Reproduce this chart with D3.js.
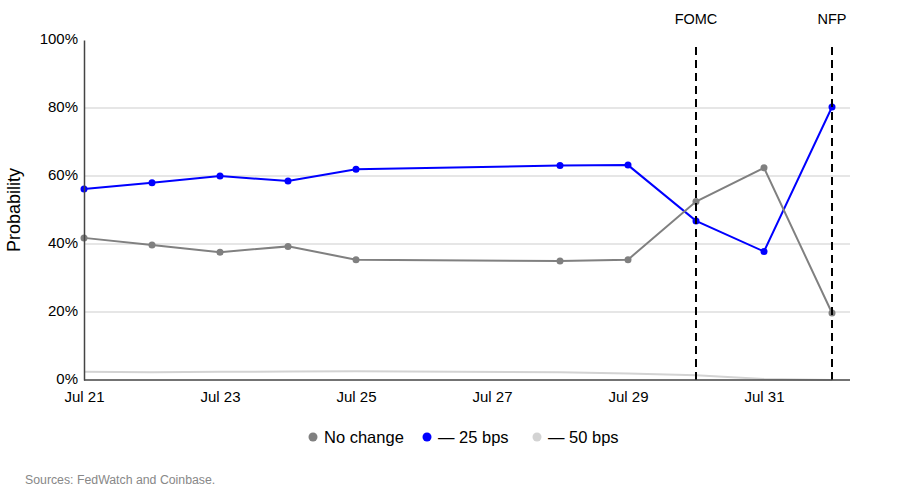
<!DOCTYPE html>
<html>
<head>
<meta charset="utf-8">
<script src="https://cdn.jsdelivr.net/npm/d3@7"></script>
<style>
  body { margin: 0; background: #fff; }
  svg text { font-family: "Liberation Sans Narrow", "Arial Narrow", "Liberation Sans", Arial, sans-serif; }
</style>
</head>
<body>
<div id="chart"></div>
<script>
// dates of each FedWatch reading (2025)
var dates = ['2025-07-21', '2025-07-22', '2025-07-23', '2025-07-24', '2025-07-25',
  '2025-07-28', '2025-07-29', '2025-07-30', '2025-07-31', '2025-08-01']
var noChange = [41.8, 39.7, 37.6, 39.3, 35.4, 35.0, 35.4, 52.5, 62.4, 19.7]
var cut25 = [56.2, 58.0, 60.0, 58.5, 62.0, 63.1, 63.2, 46.8, 37.8, 80.3]
var cut50 = [2.4, 2.3, 2.4, 2.5, 2.6, 2.3, 1.9, 1.4, 0.3, 0.0]
var eventNames = ['FOMC', 'NFP']
var eventDates = ['2025-07-30', '2025-08-01']
var yTicks = [0, 20, 40, 60, 80, 100]
var xTicks = ['2025-07-21', '2025-07-23', '2025-07-25', '2025-07-27', '2025-07-29', '2025-07-31']

var parse = d3.timeParse('%Y-%m-%d')
var width = 900, height = 500
var margin = { top: 40, right: 50, bottom: 120, left: 84 }
var innerW = width - margin.left - margin.right
var innerH = height - margin.top - margin.bottom

var svg = d3.select('#chart')
  .append('svg')
  .attr('width', width)
  .attr('height', height)

var g = svg.append('g')
  .attr('transform', `translate(${margin.left},${margin.top})`)

var xScale = d3.scaleTime()
  .domain([parse(dates[0]), parse(dates[dates.length - 1])])
  .range([0, innerW - 18])

var yScale = d3.scaleLinear()
  .domain([0, 100])
  .range([innerH, 0])

// gridlines
g.selectAll('.grid')
  .data(yTicks.filter(d => d > 0 && d < 100))
  .enter()
  .append('line')
  .attr('class', 'grid')
  .attr('x1', 0)
  .attr('x2', innerW)
  .attr('y1', d => yScale(d))
  .attr('y2', d => yScale(d))
  .attr('stroke', '#e6e6e6')
  .attr('stroke-width', 2)

var series = [
  { name: 'No change', values: noChange, color: '#808080', dots: true },
  { name: '\u2014 25 bps', values: cut25, color: '#0000ff', dots: true },
  { name: '\u2014 50 bps', values: cut50, color: '#d3d3d3', dots: false }
]

var line = d3.line()
  .x((d, i) => xScale(parse(dates[i])))
  .y(d => yScale(d))

// draw light series first so the others sit on top
series.slice().reverse().forEach(function(s) {
  g.append('path')
    .datum(s.values)
    .attr('d', line)
    .attr('fill', 'none')
    .attr('stroke', s.color)
    .attr('stroke-width', 2)

  if (s.dots) {
    g.selectAll('.dot-' + s.color.slice(1))
      .data(s.values)
      .enter()
      .append('circle')
      .attr('cx', (d, i) => xScale(parse(dates[i])))
      .attr('cy', d => yScale(d))
      .attr('r', 3.5)
      .attr('fill', s.color)
  }
})

// event markers
eventDates.forEach(function(d, i) {
  var x = xScale(parse(d))
  g.append('line')
    .attr('x1', x)
    .attr('x2', x)
    .attr('y1', 7)
    .attr('y2', innerH)
    .attr('stroke', '#000')
    .attr('stroke-width', 2)
    .attr('stroke-dasharray', '8,5')
  g.append('text')
    .attr('x', x)
    .attr('y', -16)
    .attr('text-anchor', 'middle')
    .style('font-size', '14.5px')
    .attr('fill', '#000')
    .text(eventNames[i])
})

// axes
var xAxis = d3.axisBottom(xScale)
  .tickValues(xTicks.map(parse))
  .tickFormat(d3.timeFormat('%b %d'))
  .tickSize(0)
  .tickPadding(11)

g.append('g')
  .attr('class', 'x-axis')
  .attr('transform', `translate(0,${innerH})`)
  .call(xAxis)
  .call(a => a.select('.domain').remove())
  .selectAll('text')
  .style('font-size', '15px')
  .attr('fill', '#000')

g.append('line')
  .attr('x1', 0)
  .attr('x2', innerW)
  .attr('y1', innerH)
  .attr('y2', innerH)
  .attr('stroke', '#444')
  .attr('stroke-width', 1.5)

var yAxis = d3.axisLeft(yScale)
  .tickValues(yTicks)
  .tickFormat(d => d + '%')
  .tickSize(0)
  .tickPadding(6)

g.append('g')
  .attr('class', 'y-axis')
  .call(yAxis)
  .call(a => a.select('.domain').attr('stroke', '#444').attr('stroke-width', 1.5))
  .selectAll('text')
  .style('font-size', '15px')
  .attr('dy', '0.25em')
  .attr('fill', '#000')

svg.append('text')
  .attr('transform', `translate(20,${margin.top + innerH / 2}) rotate(-90)`)
  .attr('text-anchor', 'middle')
  .style('font-size', '18px')
  .attr('fill', '#000')
  .text('Probability')

// legend
var legendX = [313, 427, 537]
var legend = svg.append('g')
series.forEach(function(s, i) {
  legend.append('circle')
    .attr('cx', legendX[i])
    .attr('cy', 437)
    .attr('r', 4.5)
    .attr('fill', s.color)
  legend.append('text')
    .attr('x', legendX[i] + 11)
    .attr('y', 443)
    .style('font-size', '16.5px')
    .attr('fill', '#000')
    .text(s.name)
})

svg.append('text')
  .attr('x', 25)
  .attr('y', 484)
  .style('font-size', '12.3px')
  .attr('fill', '#888')
  .text('Sources: FedWatch and Coinbase.')
</script>
</body>
</html>
